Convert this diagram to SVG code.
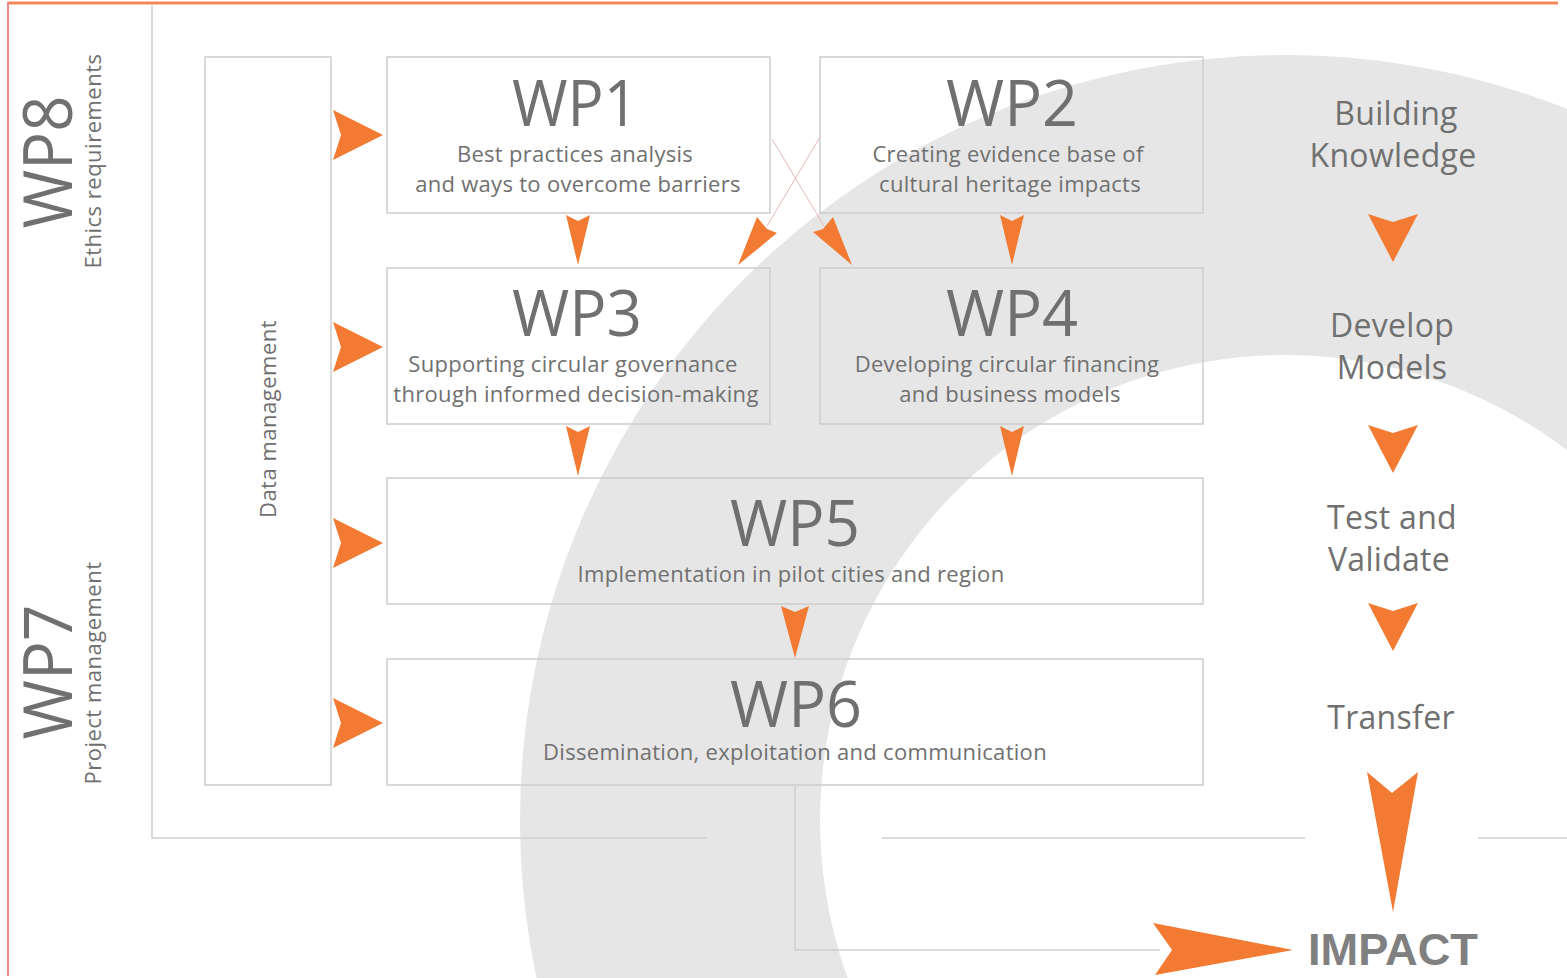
<svg xmlns="http://www.w3.org/2000/svg" xmlns:xlink="http://www.w3.org/1999/xlink" width="1567" height="978" viewBox="0 0 1567 978">
<style>
.bx{fill:none;stroke:#cdcdcd;stroke-width:1.5}
.ln{fill:none;stroke:#cfcfcf;stroke-width:1.5}
.ar{fill:#f27a32}
.t{font-family:"Open Sans","Noto Sans",sans-serif;fill:#707070}
.wp{font-size:64px;text-anchor:middle}
.sub{font-size:22px;letter-spacing:0.3px;text-anchor:middle}
.rc{font-size:32px;letter-spacing:0.3px;text-anchor:middle}
.side{font-size:22px;letter-spacing:0.5px;text-anchor:middle}
</style>
<defs>
<path id="aR" d="M-25,-25 L25,0 L-25,25 L-17,0 Z"/>
<path id="aD" d="M-12,0 L0,6 L12,0 L0,50 Z"/>
<path id="aDB" d="M-25,0 L0,8 L25,0 L0,48 Z"/>
</defs>
<rect width="1567" height="978" fill="#ffffff"/>
<path fill="#e6e6e6" fill-rule="evenodd" d="M520,820 a765,765 0 1,0 1530,0 a765,765 0 1,0 -1530,0 Z M820,820 a465,465 0 1,0 930,0 a465,465 0 1,0 -930,0 Z"/>
<line x1="8" y1="3" x2="1558" y2="3" stroke="#f4875a" stroke-width="3"/>
<line x1="8" y1="2" x2="8" y2="976" stroke="#f08a8a" stroke-width="2"/>
<g id="frame">
<path class="ln" d="M152,5 V838 H707 M882,838 H1305 M1478,838 H1567"/>
</g>
<g id="wp8"><text class="t" font-size="68" text-anchor="middle" textLength="133" lengthAdjust="spacingAndGlyphs" transform="translate(72,162) rotate(-90)">WP8</text>
<text class="t side" transform="translate(101,161) rotate(-90)">Ethics requirements</text></g>
<g id="wp7"><text class="t" font-size="68" text-anchor="middle" textLength="135" lengthAdjust="spacingAndGlyphs" transform="translate(72,672) rotate(-90)">WP7</text>
<text class="t side" transform="translate(101,673) rotate(-90)">Project management</text></g>
<g id="data"><rect class="bx" x="205" y="57" width="126" height="728"/>
<text class="t side" transform="translate(276,419) rotate(-90)">Data management</text></g>
<g id="wp1"><rect class="bx" x="387" y="57" width="383" height="156"/>
<text class="t wp" x="575" y="126" textLength="126" lengthAdjust="spacingAndGlyphs">WP1</text>
<text class="t sub" x="575" y="162">Best practices analysis</text>
<text class="t sub" x="578" y="192">and ways to overcome barriers</text></g>
<g id="wp2"><rect class="bx" x="820" y="57" width="383" height="156"/>
<text class="t wp" x="1012" y="126" textLength="132" lengthAdjust="spacingAndGlyphs">WP2</text>
<text class="t sub" x="1008" y="162">Creating evidence base of</text>
<text class="t sub" x="1010" y="192">cultural heritage impacts</text></g>
<g id="wp3"><rect class="bx" x="387" y="268" width="383" height="156"/>
<text class="t wp" x="577" y="336" textLength="130" lengthAdjust="spacingAndGlyphs">WP3</text>
<text class="t sub" x="573" y="372">Supporting circular governance</text>
<text class="t sub" x="576" y="402">through informed decision-making</text></g>
<g id="wp4"><rect class="bx" x="820" y="268" width="383" height="156"/>
<text class="t wp" x="1012" y="336" textLength="132" lengthAdjust="spacingAndGlyphs">WP4</text>
<text class="t sub" x="1007" y="372">Developing circular financing</text>
<text class="t sub" x="1010" y="402">and business models</text></g>
<g id="wp5"><rect class="bx" x="387" y="478" width="816" height="126"/>
<text class="t wp" x="795" y="546" textLength="130" lengthAdjust="spacingAndGlyphs">WP5</text>
<text class="t sub" x="791" y="582">Implementation in pilot cities and region</text></g>
<g id="wp6"><rect class="bx" x="387" y="659" width="816" height="126"/>
<text class="t wp" x="796" y="727" textLength="132" lengthAdjust="spacingAndGlyphs">WP6</text>
<text class="t sub" x="795" y="760">Dissemination, exploitation and communication</text></g>
<g id="phases">
<text class="t rc" x="1396" y="125">Building</text>
<text class="t rc" x="1393" y="167">Knowledge</text>
<text class="t rc" x="1392" y="337">Develop</text>
<text class="t rc" x="1392" y="379">Models</text>
<text class="t rc" x="1392" y="529">Test and</text>
<text class="t rc" x="1389" y="571">Validate</text>
<text class="t rc" x="1391" y="729">Transfer</text>
</g>
<g id="impact"><text x="1308" y="965" font-family="'Liberation Sans',Arial,sans-serif" font-weight="bold" font-size="45" fill="#808080" textLength="170" lengthAdjust="spacingAndGlyphs">IMPACT</text></g>
<g id="connectors">
<line x1="772" y1="139" x2="824" y2="226" stroke="#e6b8b8" stroke-width="1"/>
<line x1="820" y1="137" x2="767" y2="226" stroke="#e6b8b8" stroke-width="1"/>
<path class="ln" d="M795,786 V950 H1160"/>
<use class="ar" href="#aR" x="358" y="135"/>
<use class="ar" href="#aR" x="358" y="347"/>
<use class="ar" href="#aR" x="358" y="543"/>
<use class="ar" href="#aR" x="358" y="723"/>
<use class="ar" href="#aD" x="578" y="215"/>
<use class="ar" href="#aD" x="1012" y="215"/>
<use class="ar" href="#aD" x="578" y="426"/>
<use class="ar" href="#aD" x="1012" y="426"/>
<path class="ar" d="M781,606 L795,612 L809,606 L795,658 Z"/>
<path class="ar" d="M757,217 L767,229 L777,233 L738,265 Z"/>
<path class="ar" d="M833,217 L823,229 L813,232 L852,265 Z"/>
<use class="ar" href="#aDB" x="1393" y="214"/>
<use class="ar" href="#aDB" x="1393" y="425"/>
<use class="ar" href="#aDB" x="1393" y="603"/>
<path class="ar" d="M1367,772 L1392,793 L1418,772 L1393,912 Z"/>
<path class="ar" d="M1153,923 L1293,950 L1155,975 L1172,950 Z"/>
</g>
</svg>
